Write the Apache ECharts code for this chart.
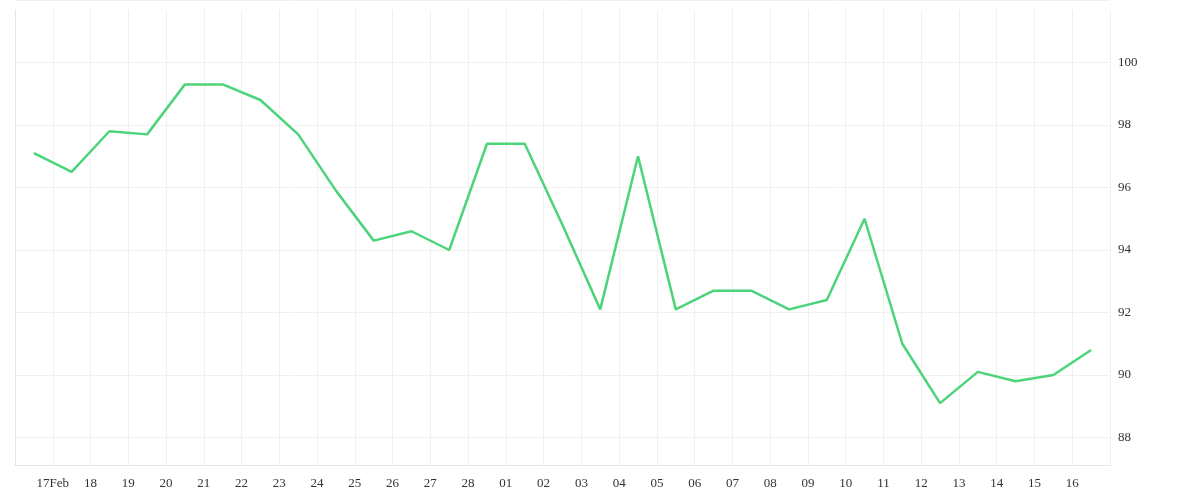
<!DOCTYPE html>
<html><head><meta charset="utf-8">
<script src="https://cdn.jsdelivr.net/npm/echarts@6/dist/echarts.min.js"></script>
<style>html,body{margin:0;padding:0;background:#fff}#c{width:1200px;height:500px}</style>
</head><body><div id="c"></div>
<script>
const dayLabels = ['16','17Feb','18','19','20','21','22','23','24','25','26','27','28','01','02','03','04','05','06','07','08','09','10','11','12','13','14','15','16','17'];
const values = [97.1,96.5,97.8,97.7,99.3,99.3,98.8,97.7,95.9,94.3,94.6,94.0,97.4,97.4,94.8,92.1,97.0,92.1,92.7,92.7,92.1,92.4,95.0,91.0,89.1,90.1,89.8,90.0,90.8];
const yTicks = [88,90,92,94,96,98,100];

const chart = echarts.init(document.getElementById('c'));
chart.setOption({
  animation:false,
  grid:[
    {left:15,right:90,top:-27,bottom:-3},
    {left:15,right:90,top:10,bottom:35}
  ],
  xAxis:[
    {type:'value',gridIndex:0,min:0,max:29,interval:1,show:false},
    {type:'value',gridIndex:1,min:0,max:29,interval:1,
      axisLine:{show:true,lineStyle:{color:'#e6e6e6'}},axisTick:{show:false},
      splitLine:{show:true,lineStyle:{color:'#f0f0f0'}},
      axisLabel:{fontFamily:'Liberation Serif',fontSize:13,color:'#333',margin:12,
        showMinLabel:false,showMaxLabel:false,
        formatter:v=>dayLabels[Math.round(v)]}}
  ],
  yAxis:[
    {type:'value',gridIndex:0,position:'right',min:86,max:102,interval:2,
      axisLine:{show:false},axisTick:{show:false},
      splitLine:{lineStyle:{color:'#f0f0f0'}},
      axisLabel:{fontFamily:'Liberation Serif',fontSize:13,color:'#333',margin:8,
        formatter:v=>yTicks.includes(v)?String(v):''}},
    {type:'value',gridIndex:1,position:'right',min:0,max:1,
      axisLine:{show:true,lineStyle:{color:'#e6e6e6'}},axisTick:{show:false},
      axisLabel:{show:false},splitLine:{show:false}}
  ],
  series:[{type:'line',xAxisIndex:0,yAxisIndex:0,showSymbol:false,
    data:values.map((v,i)=>[i+0.5,v]),
    lineStyle:{color:'#4cd47a',width:2.5},itemStyle:{color:'#4cd47a'}}]
});
</script></body></html>
